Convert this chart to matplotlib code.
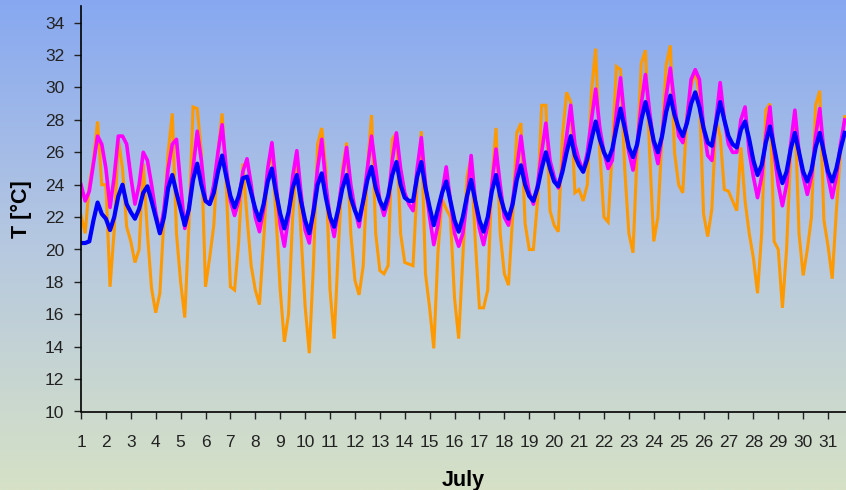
import numpy as np
import matplotlib
matplotlib.use("Agg")
import matplotlib.pyplot as plt
from matplotlib.colors import LinearSegmentedColormap

# readings every 4 h (0, 4, 8, 12, 16, 20 h), 1 July 00:00 onwards
orange = [
    22.1, 21.0, 24.0, 25.5, 27.9, 24.0,   # 1
    24.0, 17.7, 21.2, 26.8, 25.0, 21.4,   # 2
    20.5, 19.2, 20.0, 25.3, 21.0, 17.6,   # 3
    16.1, 17.3, 22.0, 26.0, 28.4, 21.0,   # 4
    18.0, 15.8, 21.5, 28.8, 28.7, 26.0,   # 5
    17.7, 19.5, 21.5, 26.0, 28.4, 24.0,   # 6
    17.7, 17.5, 20.5, 25.3, 22.0, 19.0,   # 7
    17.5, 16.6, 20.5, 25.0, 26.0, 22.0,   # 8
    17.5, 14.3, 16.0, 22.0, 26.0, 21.0,   # 9
    16.5, 13.6, 19.0, 26.5, 27.5, 25.0,   # 10
    17.5, 14.5, 20.0, 25.0, 26.6, 21.0,   # 11
    18.1, 17.2, 19.0, 25.0, 28.3, 21.0,   # 12
    18.7, 18.5, 19.0, 26.8, 27.2, 21.0,   # 13
    19.2, 19.1, 19.0, 24.0, 27.3, 18.5,   # 14
    16.4, 13.9, 19.8, 23.1, 22.5, 22.0,   # 15
    17.0, 14.5, 19.5, 24.5, 25.7, 20.5,   # 16
    16.4, 16.4, 17.5, 24.3, 27.5, 21.0,   # 17
    18.5, 17.8, 22.0, 27.2, 27.8, 21.6,   # 18
    20.0, 20.0, 23.0, 28.9, 28.9, 22.4,   # 19
    21.5, 21.1, 27.0, 29.7, 29.1, 23.5,   # 20
    23.7, 23.0, 24.0, 29.8, 32.4, 26.0,   # 21
    22.0, 21.7, 26.0, 31.3, 31.1, 25.0,   # 22
    21.0, 19.8, 26.0, 31.5, 32.3, 26.0,   # 23
    20.5, 22.0, 27.0, 31.4, 32.6, 26.0,   # 24
    24.0, 23.5, 28.4, 30.0, 31.1, 29.5,   # 25
    22.2, 20.8, 22.5, 28.0, 27.0, 23.7,   # 26
    23.6, 23.0, 22.4, 26.3, 23.0, 21.0,   # 27
    19.5, 17.3, 21.0, 28.6, 29.0, 20.5,   # 28
    20.0, 16.4, 20.0, 26.0, 28.6, 21.0,   # 29
    18.4, 20.0, 22.0, 28.9, 29.8, 21.8,   # 30
    20.2, 18.2, 22.4, 26.0, 28.2,         # 31
]

magenta = [
    24.0, 23.0, 23.6, 25.3, 27.0, 26.5,
    25.0, 22.6, 24.5, 27.0, 27.0, 26.5,
    24.5, 22.8, 24.0, 26.0, 25.5, 24.0,
    22.3, 21.0, 22.5, 25.0, 26.5, 26.8,
    24.0, 21.3, 22.5, 25.0, 27.3, 25.5,
    23.0, 22.8, 24.0, 26.0, 27.7, 25.0,
    23.0, 22.1, 23.0, 24.8, 25.6, 24.0,
    22.0, 21.1, 22.5, 25.0, 26.6, 24.0,
    21.5, 20.2, 22.0, 24.5, 26.1, 23.5,
    21.2, 20.4, 22.5, 25.0, 26.8, 24.0,
    22.0, 20.8, 22.5, 24.5, 26.3, 24.0,
    22.5, 21.4, 23.0, 25.0, 27.0, 25.0,
    23.0, 22.1, 23.0, 25.5, 27.2, 25.0,
    23.5, 22.8, 22.4, 25.0, 26.9, 24.0,
    22.0, 20.3, 21.5, 23.5, 25.1, 23.0,
    21.0, 20.2, 21.0, 23.0, 25.8, 23.0,
    21.3, 20.3, 21.5, 24.0, 26.2, 24.0,
    22.0, 21.5, 23.0, 25.0, 27.0, 25.0,
    23.5, 22.8, 24.0, 26.0, 27.8, 25.5,
    24.5, 23.8, 25.0, 27.0, 28.9, 26.5,
    25.5, 24.8, 26.0, 28.0, 29.9, 27.5,
    26.0, 25.0, 25.5, 28.5, 30.6, 28.0,
    26.0, 24.9, 26.5, 29.0, 30.8, 28.5,
    26.5, 25.3, 27.0, 29.5, 31.2, 29.0,
    27.0, 26.6, 28.0, 30.5, 31.1, 30.5,
    27.5, 25.8, 25.5, 28.0, 30.3, 28.0,
    26.5, 26.0, 26.0, 28.0, 28.8, 26.0,
    24.5, 23.2, 24.5, 27.0, 28.8, 26.0,
    24.0, 22.7, 24.0, 26.5, 28.6, 26.0,
    24.5, 23.4, 24.5, 27.0, 28.7, 26.0,
    24.5, 23.2, 24.5, 26.5, 28.0,
]

blue = [
    20.4, 20.4, 20.5, 21.8, 22.9, 22.2,
    21.9, 21.2, 22.0, 23.3, 24.0, 22.8,
    22.3, 21.9, 22.5, 23.5, 23.9, 23.0,
    22.0, 21.0, 22.0, 23.8, 24.6, 23.5,
    22.5, 21.5, 22.5, 24.3, 25.3, 24.0,
    23.0, 22.8, 23.5, 24.8, 25.8, 24.5,
    23.3, 22.6, 23.3, 24.4, 24.5, 23.5,
    22.5, 21.8, 22.8, 24.2, 25.0, 23.5,
    22.2, 21.3, 22.3, 23.8, 24.6, 23.0,
    21.8, 21.0, 22.3, 24.0, 24.7, 23.2,
    22.0, 21.4, 22.5, 23.8, 24.6, 23.2,
    22.4, 21.8, 23.0, 24.3, 25.1, 23.8,
    23.0, 22.5, 23.3, 24.6, 25.4, 24.0,
    23.2, 23.0, 23.0, 24.5, 25.4, 23.8,
    22.6, 21.5, 22.5, 23.5, 24.2, 23.0,
    21.8, 21.1, 22.0, 23.3, 24.3, 23.0,
    21.8, 21.1, 22.0, 23.6, 24.6, 23.3,
    22.4, 21.9, 22.8, 24.3, 25.2, 24.0,
    23.3, 23.0, 23.8, 25.0, 26.0, 25.0,
    24.2, 23.9, 24.8, 26.0, 27.0, 25.8,
    25.2, 24.8, 25.6, 26.8, 27.9, 26.8,
    26.0, 25.5, 26.2, 27.5, 28.7, 27.5,
    26.3, 25.7, 26.5, 28.0, 29.1, 28.0,
    26.7, 26.0, 27.0, 28.5, 29.5, 28.3,
    27.5, 27.0, 27.8, 29.0, 29.7, 28.8,
    27.5, 26.6, 26.4, 27.8, 29.1, 28.0,
    27.0, 26.5, 26.3, 27.4, 27.9, 26.8,
    25.5, 24.6, 25.2, 26.6, 27.6, 26.3,
    25.0, 24.1, 24.8, 26.2, 27.2, 26.0,
    24.8, 24.2, 24.9, 26.3, 27.2, 26.0,
    24.8, 24.2, 25.0, 26.2, 27.2,
]

days = list(range(1, 32))
yticks = list(range(10, 35, 2))

t = 1 + np.arange(len(orange)) / 6.0

plt.rcParams['font.family'] = ['Liberation Sans', 'DejaVu Sans']

fig = plt.figure(figsize=(8.46, 4.90), dpi=100)

# background gradient over the whole figure
bg = fig.add_axes([0, 0, 1, 1], zorder=-10)
grad = LinearSegmentedColormap.from_list('bg', ['#87a8f1', '#b6c8e0', '#d6e1c6'])
bg.imshow(np.linspace(0, 1, 256).reshape(-1, 1), aspect='auto', cmap=grad,
          extent=[0, 1, 0, 1])
bg.axis('off')

ax = fig.add_axes([81 / 846, 78.5 / 490, 765 / 846, 405 / 490])
ax.patch.set_alpha(0)

ax.plot(t, orange, color='#ff9900', lw=2.2, solid_joinstyle='miter')
ax.plot(t, magenta, color='#ff00ff', lw=2.6)
ax.plot(t, blue, color='#0000ff', lw=3.0)

ax.set_xlim(1, 31.72)
ax.set_ylim(10, 35)
ax.set_xticks(days)
ax.set_yticks(yticks)
ax.tick_params(axis='both', direction='out', length=5, width=1, labelsize=12.5, colors='#222222')
ax.tick_params(axis='x', pad=12)
ax.tick_params(axis='y', pad=7)

for s in ['top', 'right']:
    ax.spines[s].set_visible(False)
for s in ['left', 'bottom']:
    ax.spines[s].set_color('black')
    ax.spines[s].set_linewidth(1.2)

ax.set_xlabel('July', fontsize=15.5, fontweight='bold', labelpad=14)
ax.set_ylabel('T [°C]', fontsize=15.5, fontweight='bold', labelpad=9)

fig.savefig('out.png', dpi=100)
